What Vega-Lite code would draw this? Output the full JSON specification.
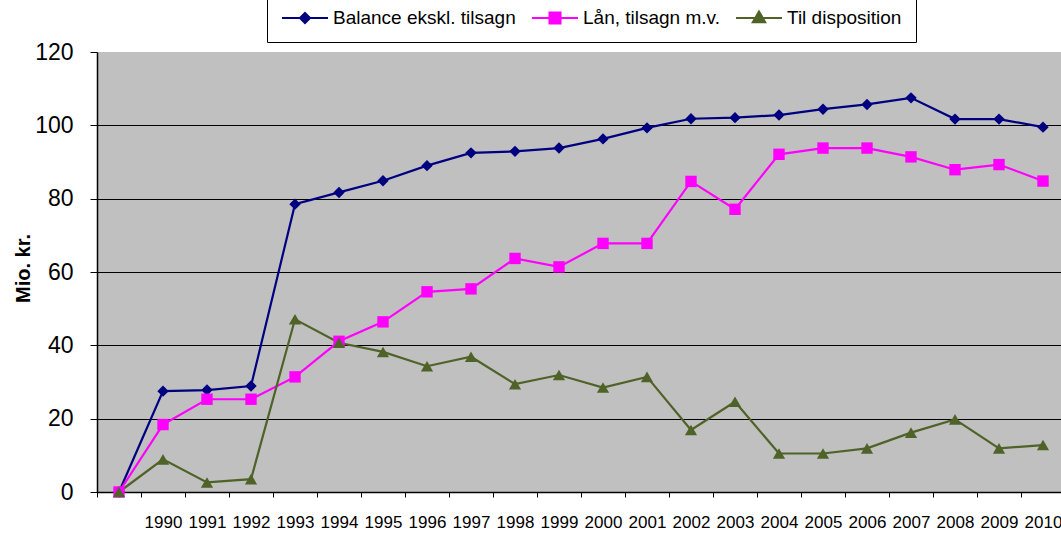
{
  "$schema": "https://vega.github.io/schema/vega-lite/v6.json",
  "autosize": "none",
  "width": 968,
  "height": 440,
  "padding": {"left": 97, "top": 52, "right": 0, "bottom": 43},
  "background": "white",
  "config": {
    "view": {"fill": "#C0C0C0", "stroke": null},
    "font": "Liberation Sans"
  },
  "datasets": {
    "d": [
      {"year": "1989", "series": "Balance ekskl. tilsagn", "value": 0},
      {"year": "1990", "series": "Balance ekskl. tilsagn", "value": 27.5},
      {"year": "1991", "series": "Balance ekskl. tilsagn", "value": 27.8},
      {"year": "1992", "series": "Balance ekskl. tilsagn", "value": 28.9},
      {"year": "1993", "series": "Balance ekskl. tilsagn", "value": 78.5},
      {"year": "1994", "series": "Balance ekskl. tilsagn", "value": 81.7},
      {"year": "1995", "series": "Balance ekskl. tilsagn", "value": 84.9},
      {"year": "1996", "series": "Balance ekskl. tilsagn", "value": 89.0},
      {"year": "1997", "series": "Balance ekskl. tilsagn", "value": 92.5},
      {"year": "1998", "series": "Balance ekskl. tilsagn", "value": 92.9},
      {"year": "1999", "series": "Balance ekskl. tilsagn", "value": 93.8},
      {"year": "2000", "series": "Balance ekskl. tilsagn", "value": 96.3},
      {"year": "2001", "series": "Balance ekskl. tilsagn", "value": 99.3},
      {"year": "2002", "series": "Balance ekskl. tilsagn", "value": 101.8},
      {"year": "2003", "series": "Balance ekskl. tilsagn", "value": 102.1},
      {"year": "2004", "series": "Balance ekskl. tilsagn", "value": 102.8},
      {"year": "2005", "series": "Balance ekskl. tilsagn", "value": 104.4},
      {"year": "2006", "series": "Balance ekskl. tilsagn", "value": 105.7},
      {"year": "2007", "series": "Balance ekskl. tilsagn", "value": 107.5},
      {"year": "2008", "series": "Balance ekskl. tilsagn", "value": 101.7},
      {"year": "2009", "series": "Balance ekskl. tilsagn", "value": 101.7},
      {"year": "2010", "series": "Balance ekskl. tilsagn", "value": 99.5},
      {"year": "1989", "series": "Lån, tilsagn m.v.", "value": 0},
      {"year": "1990", "series": "Lån, tilsagn m.v.", "value": 18.4},
      {"year": "1991", "series": "Lån, tilsagn m.v.", "value": 25.3},
      {"year": "1992", "series": "Lån, tilsagn m.v.", "value": 25.3},
      {"year": "1993", "series": "Lån, tilsagn m.v.", "value": 31.4},
      {"year": "1994", "series": "Lån, tilsagn m.v.", "value": 41.1},
      {"year": "1995", "series": "Lån, tilsagn m.v.", "value": 46.4},
      {"year": "1996", "series": "Lån, tilsagn m.v.", "value": 54.6},
      {"year": "1997", "series": "Lån, tilsagn m.v.", "value": 55.4},
      {"year": "1998", "series": "Lån, tilsagn m.v.", "value": 63.7},
      {"year": "1999", "series": "Lån, tilsagn m.v.", "value": 61.4},
      {"year": "2000", "series": "Lån, tilsagn m.v.", "value": 67.8},
      {"year": "2001", "series": "Lån, tilsagn m.v.", "value": 67.8},
      {"year": "2002", "series": "Lån, tilsagn m.v.", "value": 84.7},
      {"year": "2003", "series": "Lån, tilsagn m.v.", "value": 77.1},
      {"year": "2004", "series": "Lån, tilsagn m.v.", "value": 92.1},
      {"year": "2005", "series": "Lån, tilsagn m.v.", "value": 93.8},
      {"year": "2006", "series": "Lån, tilsagn m.v.", "value": 93.8},
      {"year": "2007", "series": "Lån, tilsagn m.v.", "value": 91.4},
      {"year": "2008", "series": "Lån, tilsagn m.v.", "value": 87.9},
      {"year": "2009", "series": "Lån, tilsagn m.v.", "value": 89.3},
      {"year": "2010", "series": "Lån, tilsagn m.v.", "value": 84.8},
      {"year": "1989", "series": "Til disposition", "value": 0},
      {"year": "1990", "series": "Til disposition", "value": 8.9},
      {"year": "1991", "series": "Til disposition", "value": 2.6},
      {"year": "1992", "series": "Til disposition", "value": 3.5},
      {"year": "1993", "series": "Til disposition", "value": 47.1},
      {"year": "1994", "series": "Til disposition", "value": 40.7},
      {"year": "1995", "series": "Til disposition", "value": 38.2},
      {"year": "1996", "series": "Til disposition", "value": 34.3},
      {"year": "1997", "series": "Til disposition", "value": 36.9},
      {"year": "1998", "series": "Til disposition", "value": 29.4},
      {"year": "1999", "series": "Til disposition", "value": 31.9},
      {"year": "2000", "series": "Til disposition", "value": 28.5},
      {"year": "2001", "series": "Til disposition", "value": 31.4},
      {"year": "2002", "series": "Til disposition", "value": 16.9},
      {"year": "2003", "series": "Til disposition", "value": 24.6},
      {"year": "2004", "series": "Til disposition", "value": 10.5},
      {"year": "2005", "series": "Til disposition", "value": 10.5},
      {"year": "2006", "series": "Til disposition", "value": 11.9},
      {"year": "2007", "series": "Til disposition", "value": 16.2},
      {"year": "2008", "series": "Til disposition", "value": 19.8},
      {"year": "2009", "series": "Til disposition", "value": 11.9},
      {"year": "2010", "series": "Til disposition", "value": 12.8}
    ]
  },
  "data": {"name": "d"},
  "encoding": {
    "x": {
      "field": "year",
      "type": "ordinal",
      "sort": null,
      "scale": {"type": "band", "paddingInner": 0, "paddingOuter": 0},
      "axis": {
        "title": null,
        "labelAngle": 0,
        "labelFontSize": 17,
        "labelColor": "black",
        "labelPadding": 17,
        "labelDx": -6,
        "labelExpr": "datum.value == '1989' ? '' : datum.value",
        "tickBand": "extent",
        "tickSize": 5,
        "tickColor": "black",
        "domainColor": "black",
        "domainWidth": 1.5,
        "grid": false
      }
    },
    "y": {
      "field": "value",
      "type": "quantitative",
      "scale": {"domain": [0, 120], "nice": false},
      "axis": {
        "values": [0, 20, 40, 60, 80, 100, 120],
        "title": "Mio. kr.",
        "titleFontSize": 20,
        "titleFontWeight": "bold",
        "titleColor": "black",
        "titleX": -74,
        "titleY": 216,
        "titleAngle": 270,
        "titleAlign": "center",
        "titleBaseline": "middle",
        "labelFontSize": 23,
        "labelColor": "black",
        "labelPadding": 17,
        "labelDy": 2,
        "tickSize": 7,
        "tickColor": "black",
        "domainColor": "black",
        "domainWidth": 1.5,
        "grid": true,
        "gridColor": "black",
        "gridWidth": 1.2,
        "gridOpacity": {"condition": {"test": "datum.value == 120", "value": 0}, "value": 1}
      }
    }
  },
  "layer": [
    {
      "mark": {"type": "line", "strokeWidth": 2.2},
      "encoding": {
        "color": {
          "field": "series",
          "type": "nominal",
          "scale": {
            "domain": ["Balance ekskl. tilsagn", "Lån, tilsagn m.v.", "Til disposition"],
            "range": ["#000080", "#FF00FF", "#4F6228"]
          },
          "legend": {
            "title": null,
            "orient": "none",
            "direction": "horizontal",
            "legendX": 170,
            "legendY": -72,
            "padding": 14,
            "strokeColor": "black",
            "fillColor": "white",
            "cornerRadius": 0,
            "labelFontSize": 19,
            "labelColor": "black",
            "labelLimit": 400,
            "labelOffset": 4,
            "columnPadding": 12,
            "symbolSize": 2116,
            "symbolStrokeWidth": 2,
            "encode": {
              "symbols": {
                "enter": {
                  "shape": {"signal": "datum.value === 'Balance ekskl. tilsagn' ? 'M-1,0H1M0,-0.22L0.22,0L0,0.22L-0.22,0Z' : datum.value === 'Lån, tilsagn m.v.' ? 'M-1,0H1M-0.24,-0.24H0.24V0.24H-0.24Z' : 'M-1,0H1M0,-0.28L0.27,0.18L-0.27,0.18Z'"}
                },
                "update": {
                  "shape": {"signal": "datum.value === 'Balance ekskl. tilsagn' ? 'M-1,0H1M0,-0.22L0.22,0L0,0.22L-0.22,0Z' : datum.value === 'Lån, tilsagn m.v.' ? 'M-1,0H1M-0.24,-0.24H0.24V0.24H-0.24Z' : 'M-1,0H1M0,-0.28L0.27,0.18L-0.27,0.18Z'"},
                  "fill": {"signal": "datum.value === 'Balance ekskl. tilsagn' ? '#000080' : datum.value === 'Lån, tilsagn m.v.' ? '#FF00FF' : '#4F6228'"},
                  "stroke": {"signal": "datum.value === 'Balance ekskl. tilsagn' ? '#000080' : datum.value === 'Lån, tilsagn m.v.' ? '#FF00FF' : '#4F6228'"},
                  "strokeWidth": {"value": 2},
                  "opacity": {"value": 1}
                }
              }
            }
          }
        }
      }
    },
    {
      "transform": [{"filter": "datum.series === 'Balance ekskl. tilsagn'"}],
      "mark": {"type": "point", "filled": true, "opacity": 1, "shape": "diamond", "size": 130, "color": "#000080"}
    },
    {
      "transform": [{"filter": "datum.series === 'Lån, tilsagn m.v.'"}],
      "mark": {"type": "point", "filled": true, "opacity": 1, "shape": "square", "size": 130, "color": "#FF00FF"}
    },
    {
      "transform": [{"filter": "datum.series === 'Til disposition'"}],
      "mark": {"type": "point", "filled": true, "opacity": 1, "shape": "triangle-up", "size": 150, "color": "#4F6228"}
    }
  ]
}
